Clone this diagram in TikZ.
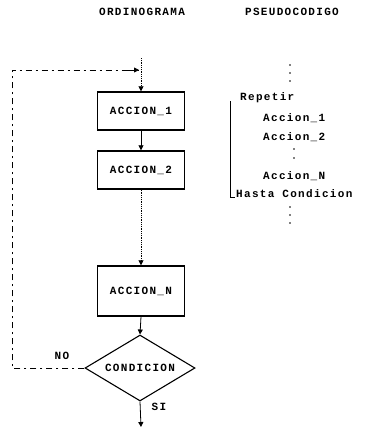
\documentclass[tikz,border=0pt]{standalone}
\usepackage{fontspec}
\usetikzlibrary{shapes.geometric,arrows.meta}
\newfontfamily\monof[LetterSpace=12, UprightFont=* Bold]{Liberation Mono}
\begin{document}
\begin{tikzpicture}[x=1pt,y=-1pt,
  txt/.style={font=\monof\fontsize{11}{13}\selectfont, inner sep=0pt},
  actbox/.style={draw, line width=1.4pt, minimum width=87pt, inner sep=0pt, txt},
  cond/.style={draw, diamond, aspect=1.67, line width=1.1pt, minimum width=110pt, minimum height=66pt, inner sep=0pt, txt},
  flow/.style={line width=0.8pt, -{Triangle[length=5pt,width=5pt]}},
  dflow/.style={flow, densely dotted},
  loopline/.style={line width=0.7pt, dash pattern=on 6pt off 4pt on 2pt off 4pt},
  pdot/.style={circle, fill, inner sep=0pt, minimum size=1.8pt}
]
\useasboundingbox (0,0) rectangle (365,432);
% headers
\node[txt] (h1) at (142,12) {ORDINOGRAMA};
\node[txt] (h2) at (292,12) {PSEUDOCODIGO};
% flowchart
\coordinate (top) at (141,58);
\node[actbox, minimum height=38pt] (a1) at (141,111) {ACCION\_1};
\node[actbox, minimum height=38pt] (a2) at (141,170) {ACCION\_2};
\node[actbox, minimum height=50pt] (aN) at (141,291) {ACCION\_N};
\node[cond] (c) at (140,368) {CONDICION};
\coordinate (end) at (141,427);
\draw[dflow] (top) -- (a1.north);
\draw[flow] (a1.south) -- (a2.north);
\draw[dflow] (a2.south) -- (aN.north);
\draw[flow] (aN.south) -- (c.north);
\draw[flow] (c.south) -- (end);
% loop back
\coordinate (l1) at (12,368);
\coordinate (l2) at (12,70);
\coordinate (l3) at (139,70);
\draw[loopline] (c.west) -- (l1) -- (l2) -- (l3);
\draw[line width=0.8pt, -{Triangle[length=5pt,width=5pt]}] (128,70) -- (l3);
\node[txt] (no) at (62,356) {NO};
\node[txt] (si) at (159,407) {SI};
% pseudocode
\foreach \yy in {65,73,81} \node[pdot] at (290,\yy) {};
\node[txt, anchor=west] (p1) at (240,98) {Repetir};
\node[txt, anchor=west] (p2) at (263,118) {Accion\_1};
\node[txt, anchor=west] (p3) at (263,137) {Accion\_2};
\foreach \yy in {149,158} \node[pdot] at (294,\yy) {};
\node[txt, anchor=west] (p4) at (263,176) {Accion\_N};
\node[txt, anchor=west] (p5) at (236,194) {Hasta Condicion};
\foreach \yy in {207,215,223} \node[pdot] at (290,\yy) {};
\coordinate (b1) at (230,101);
\coordinate (b2) at (230,197);
\coordinate (b3) at (235,197);
\draw[line width=1pt] (b1) -- (b2) -- (b3);
\end{tikzpicture}
\end{document}
